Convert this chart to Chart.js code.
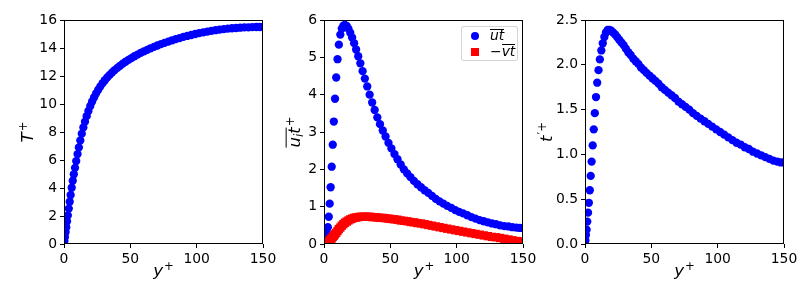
<!DOCTYPE html>
<html>
<head>
<meta charset="utf-8">
<script src="https://cdn.jsdelivr.net/npm/chart.js@4"></script>
<style>
  body { margin: 0; background: #fff; width: 800px; height: 287px; overflow: hidden; position: relative; font-family: "DejaVu Sans", sans-serif; color: #000; }
  canvas { position: absolute; top: 0; }
  .lab { position: absolute; font-size: 16.7px; line-height: 1; white-space: nowrap; transform: translate(-50%, -50%); }
  .rot { transform: translate(-50%, -50%) rotate(-90deg); }
  .sup { font-size: 0.7em; position: relative; top: -0.55em; margin-left: 1px; }
  .sub { font-size: 0.7em; position: relative; top: 0.25em; }
  .ov { position: relative; }
  .ov::before { content: ""; position: absolute; left: 0; right: 0; top: 0.12em; border-top: 1px solid #000; }
  #legend { position: absolute; left: 461px; top: 26px; width: 55px; height: 33px; border: 1px solid rgba(204,204,204,0.8); border-radius: 3px; background: rgba(255,255,255,0.8); }
  .mk { position: absolute; width: 8.3px; height: 8.3px; }
  .dot { background: #0000ff; border-radius: 50%; }
  .sq { background: #ff0000; }
  .ltxt { position: absolute; font-size: 13.9px; line-height: 1; white-space: nowrap; }
</style>
</head>
<body>
<canvas id="c1" width="277" height="287" style="left:0px"></canvas>
<canvas id="c2" width="277" height="287" style="left:260px"></canvas>
<canvas id="c3" width="277" height="287" style="left:521px"></canvas>

<div class="lab" style="left:163.5px; top:270px"><i>y</i><span class="sup">+</span></div>
<div class="lab" style="left:424px; top:270px"><i>y</i><span class="sup">+</span></div>
<div class="lab" style="left:684.5px; top:270px"><i>y</i><span class="sup">+</span></div>

<div class="lab rot" style="left:27px; top:132px"><i>T</i><span class="sup">+</span></div>
<div class="lab rot" style="left:294px; top:132px"><span class="ov"><i>u</i><span class="sub"><i>i</i></span><i>t</i></span><span class="sup">+</span></div>
<div class="lab rot" style="left:546px; top:132px"><i>t</i><span class="sup">′+</span></div>

<div id="legend">
  <span class="mk dot" style="left:9px; top:5px"></span>
  <span class="mk sq" style="left:9px; top:21px"></span>
  <span class="ltxt" style="left:28px; top:2px"><span class="ov"><i>ut</i></span></span>
  <span class="ltxt" style="left:28px; top:17.7px">−<span class="ov"><i>vt</i></span></span>
</div>

<script>
// wall distance y+
const yPlus = [0, 0.3, 0.7, 1.2, 1.7, 2.3, 2.9, 3.6, 4.3, 5.0, 5.8, 6.6, 7.4, 8.3, 9.2, 10.2,
  11.2, 12.3, 13.4, 14.6, 15.8, 17.1, 18.4, 19.8, 21.2, 22.7, 24.2, 25.8, 27.4, 29.1, 30.8,
  32.6, 34.4, 36.3, 38.2, 40.2, 42.2, 44.3, 46.4, 48.6, 50.8, 53.1, 55.4, 57.8, 60.2, 62.7,
  65.2, 67.8, 70.4, 73.1, 75.8, 78.6, 81.4, 84.2, 87.1, 90.0, 92.9, 95.9, 98.9, 101.9, 104.9,
  108.0, 111.1, 114.2, 117.3, 120.4, 123.5, 126.6, 129.7, 132.8, 135.9, 139.0, 142.0, 145.0,
  147.6, 150.0];

// mean temperature T+
const tMean = [0, 0.21, 0.50, 0.85, 1.20, 1.62, 2.04, 2.53, 3.02, 3.50, 4.02, 4.52, 4.98, 5.44,
  5.92, 6.42, 6.90, 7.40, 7.88, 8.33, 8.74, 9.13, 9.50, 9.86, 10.18, 10.48, 10.76, 11.02, 11.26,
  11.49, 11.70, 11.90, 12.08, 12.26, 12.42, 12.58, 12.73, 12.88, 13.02, 13.15, 13.28, 13.41,
  13.53, 13.65, 13.76, 13.87, 13.98, 14.08, 14.18, 14.28, 14.37, 14.46, 14.55, 14.63, 14.71,
  14.79, 14.86, 14.93, 15.00, 15.06, 15.12, 15.17, 15.22, 15.27, 15.31, 15.35, 15.38, 15.41,
  15.43, 15.45, 15.47, 15.48, 15.49, 15.50, 15.50, 15.50];

// streamwise heat flux ut
const utFlux = [0, 0.01, 0.03, 0.08, 0.16, 0.28, 0.45, 0.73, 1.08, 1.52, 2.07, 2.66, 3.28, 3.89,
  4.46, 4.95, 5.34, 5.61, 5.77, 5.85, 5.87, 5.84, 5.77, 5.66, 5.53, 5.38, 5.21, 5.03, 4.84,
  4.63, 4.43, 4.22, 4.00, 3.79, 3.59, 3.39, 3.21, 3.04, 2.88, 2.71, 2.56, 2.41, 2.27, 2.13,
  2.00, 1.89, 1.79, 1.69, 1.60, 1.52, 1.44, 1.37, 1.29, 1.21, 1.14, 1.08, 1.02, 0.97, 0.91,
  0.86, 0.82, 0.77, 0.72, 0.68, 0.64, 0.61, 0.58, 0.55, 0.53, 0.50, 0.48, 0.47, 0.45, 0.44,
  0.43, 0.43];

// wall-normal heat flux -vt
const vtFlux = [0, 0, 0, 0.01, 0.02, 0.03, 0.05, 0.07, 0.09, 0.12, 0.15, 0.19, 0.22, 0.26, 0.30,
  0.35, 0.40, 0.44, 0.49, 0.53, 0.57, 0.60, 0.63, 0.66, 0.68, 0.70, 0.71, 0.72, 0.73, 0.73,
  0.73, 0.73, 0.73, 0.72, 0.72, 0.71, 0.70, 0.70, 0.69, 0.68, 0.67, 0.66, 0.65, 0.63, 0.62,
  0.61, 0.59, 0.58, 0.56, 0.55, 0.53, 0.51, 0.49, 0.47, 0.45, 0.43, 0.41, 0.39, 0.37, 0.35,
  0.33, 0.31, 0.29, 0.27, 0.25, 0.23, 0.21, 0.19, 0.18, 0.16, 0.14, 0.12, 0.10, 0.08, 0.07,
  0.06];

// temperature fluctuation rms t'+
const tRms = [0, 0.04, 0.10, 0.16, 0.25, 0.35, 0.46, 0.60, 0.76, 0.92, 1.10, 1.28, 1.46, 1.64,
  1.80, 1.94, 2.06, 2.16, 2.24, 2.31, 2.36, 2.39, 2.39, 2.38, 2.36, 2.34, 2.31, 2.28, 2.25,
  2.22, 2.18, 2.14, 2.11, 2.07, 2.04, 2.01, 1.97, 1.94, 1.91, 1.88, 1.85, 1.82, 1.79, 1.75,
  1.72, 1.69, 1.66, 1.63, 1.59, 1.56, 1.53, 1.50, 1.46, 1.43, 1.40, 1.37, 1.34, 1.31, 1.28,
  1.25, 1.22, 1.19, 1.16, 1.13, 1.11, 1.08, 1.06, 1.03, 1.01, 0.99, 0.97, 0.95, 0.93, 0.92,
  0.91, 0.91];

const BLUE = "#0000ff";
const RED = "#ff0000";
const tickFont = { family: "DejaVu Sans", size: 13.9 };

function pts(ys) {
  return yPlus.map((x, i) => ({ x: x, y: ys[i] }));
}

const frame = {
  id: "frame",
  afterDatasetsDraw(chart) {
    const a = chart.chartArea;
    const ctx = chart.ctx;
    ctx.save();
    ctx.strokeStyle = "#000";
    ctx.lineWidth = 1;
    ctx.strokeRect(Math.round(a.left) + 0.5, Math.round(a.top) + 0.5,
      Math.round(a.right - a.left) - 1, Math.round(a.bottom - a.top) - 1);
    ctx.restore();
  }
};

function makeChart(id, datasets, yMax, yStep, fmt) {
  new Chart(document.getElementById(id), {
    type: "scatter",
    data: { datasets: datasets },
    options: {
      responsive: false,
      animation: false,
      devicePixelRatio: 1,
      layout: { padding: { left: 0, top: 20, right: 14, bottom: 0 } },
      plugins: { legend: { display: false }, tooltip: { enabled: false } },
      scales: {
        x: {
          type: "linear", min: 0, max: 150,
          border: { display: false },
          grid: { drawOnChartArea: false, drawTicks: true, tickLength: 4, color: "#000" },
          ticks: { stepSize: 50, color: "#000", font: tickFont, padding: 3, maxRotation: 0 },
          afterFit(s) { s.height = 43; s.paddingLeft = 0; s.paddingRight = 0; }
        },
        y: {
          type: "linear", min: 0, max: yMax,
          border: { display: false },
          grid: { drawOnChartArea: false, drawTicks: true, tickLength: 4, color: "#000" },
          ticks: { stepSize: yStep, color: "#000", font: tickFont, padding: 3,
                   callback: v => fmt(v) },
          afterFit(s) { s.width = 64; s.paddingTop = 0; s.paddingBottom = 0; }
        }
      }
    },
    plugins: [frame]
  });
}

function dotSet(ys, color, style, r) {
  return {
    data: pts(ys),
    pointStyle: style,
    pointRadius: r,
    pointHoverRadius: r,
    pointBorderWidth: 0,
    backgroundColor: color,
    borderColor: color,
    clip: 0
  };
}

makeChart("c1", [dotSet(tMean, BLUE, "circle", 4.15)], 16, 2, v => String(v));

const vtSet = dotSet(vtFlux, RED, "rect", 5.9);
vtSet.order = -1;
makeChart("c2", [dotSet(utFlux, BLUE, "circle", 4.15), vtSet], 6, 1, v => String(v));

makeChart("c3", [dotSet(tRms, BLUE, "circle", 4.15)], 2.5, 0.5, v => v.toFixed(1));
</script>
</body>
</html>
